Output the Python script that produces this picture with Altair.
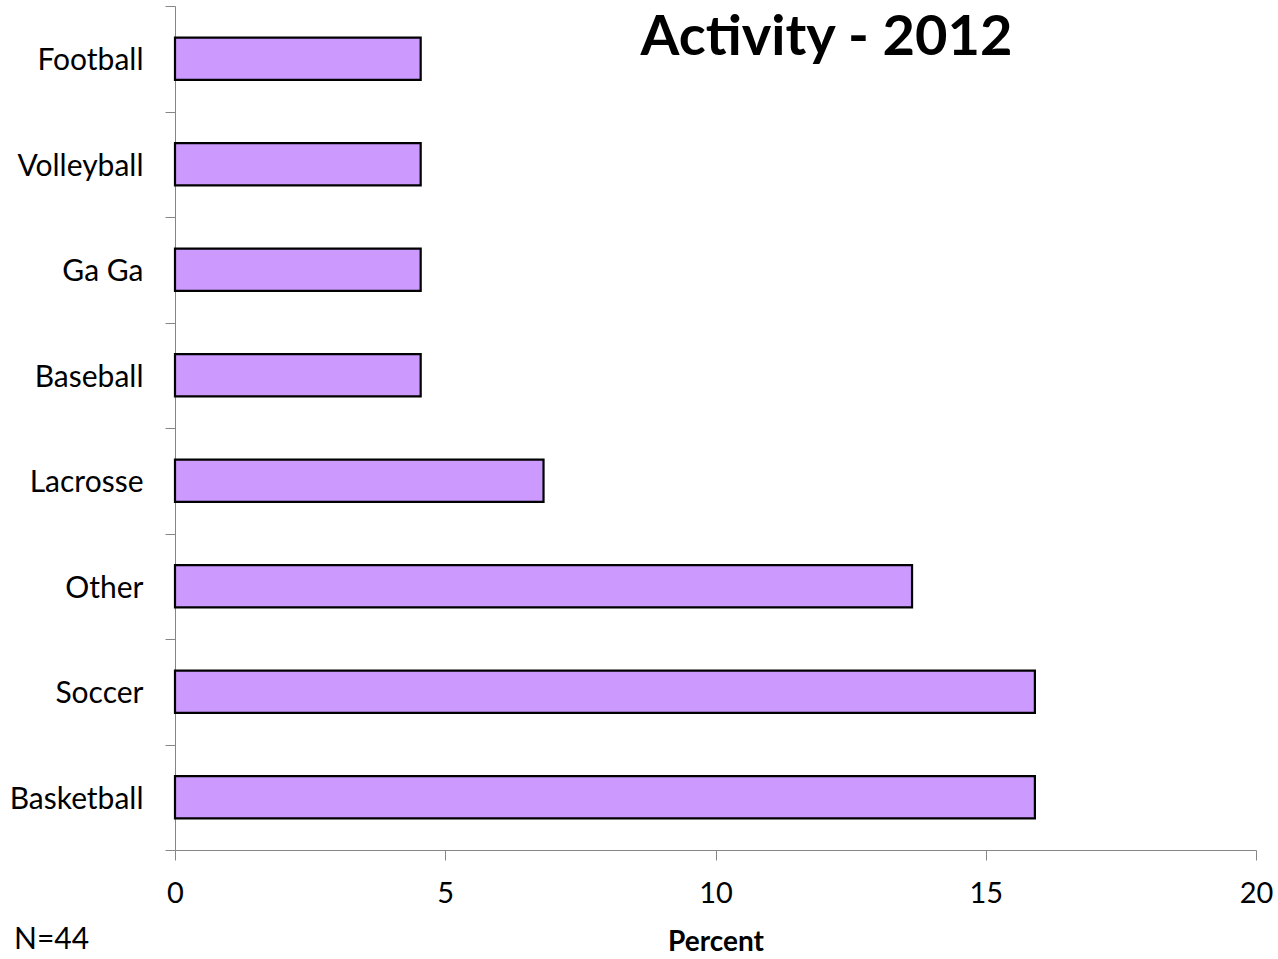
import altair as alt
import pandas as pd

# Share of respondents (N=44) by favourite activity
activities = ["Football", "Volleyball", "Ga Ga", "Baseball", "Lacrosse", "Other", "Soccer", "Basketball"]
counts = [2, 2, 2, 2, 3, 6, 7, 7]
total = 44
percents = [c / total * 100 for c in counts]

df = pd.DataFrame({"activity": activities, "percent": percents})

FONT = "Lato"
AXIS_GRAY = "#868686"

bars = alt.Chart(df).mark_bar(
    height=alt.RelativeBandSize(0.4),
    fill="#CC99FF",
    stroke="black",
    strokeWidth=2.2,
).encode(
    x=alt.X(
        "percent:Q",
        scale=alt.Scale(domain=[0, 20], nice=False, zero=True),
        axis=alt.Axis(
            values=[0, 5, 10, 15, 20],
            title="Percent",
            titleFont=FONT,
            titleFontSize=28,
            titleFontWeight="bold",
            titleColor="black",
            titlePadding=20,
            labelFont=FONT,
            labelFontSize=29,
            labelColor="black",
            labelPadding=19,
            tickSize=10,
            tickColor=AXIS_GRAY,
            domainColor=AXIS_GRAY,
            grid=False,
            labelFlush=False,
        ),
    ),
    y=alt.Y(
        "activity:N",
        sort=activities,
        scale=alt.Scale(paddingInner=0, paddingOuter=0),
        axis=alt.Axis(
            title=None,
            labelFont=FONT,
            labelFontSize=30,
            labelColor="black",
            labelPadding=22,
            labelOffset=2,
            tickSize=10,
            tickBand="extent",
            tickColor=AXIS_GRAY,
            domainColor=AXIS_GRAY,
            grid=False,
        ),
    ),
)

note = alt.Chart(pd.DataFrame({"note": ["N=44"]})).mark_text(
    font=FONT, fontSize=30, color="black", align="left", baseline="middle"
).encode(
    x=alt.value(-161),
    y=alt.value(934),
    text="note:N",
)

chart = alt.layer(bars, note).properties(
    width=1081,
    height=844,
    title=alt.TitleParams(
        "Activity - 2012",
        font=FONT,
        fontSize=56,
        fontWeight="bold",
        color="black",
        anchor="middle",
        baseline="top",
        dx=111,
        offset=-76,
    ),
    autosize=alt.AutoSizeParams(type="none"),
    padding={"left": 175, "top": 6, "right": 22, "bottom": 109},
).configure_view(stroke=None)

chart.save("out.html", embed_options={"renderer": "svg", "actions": False})
